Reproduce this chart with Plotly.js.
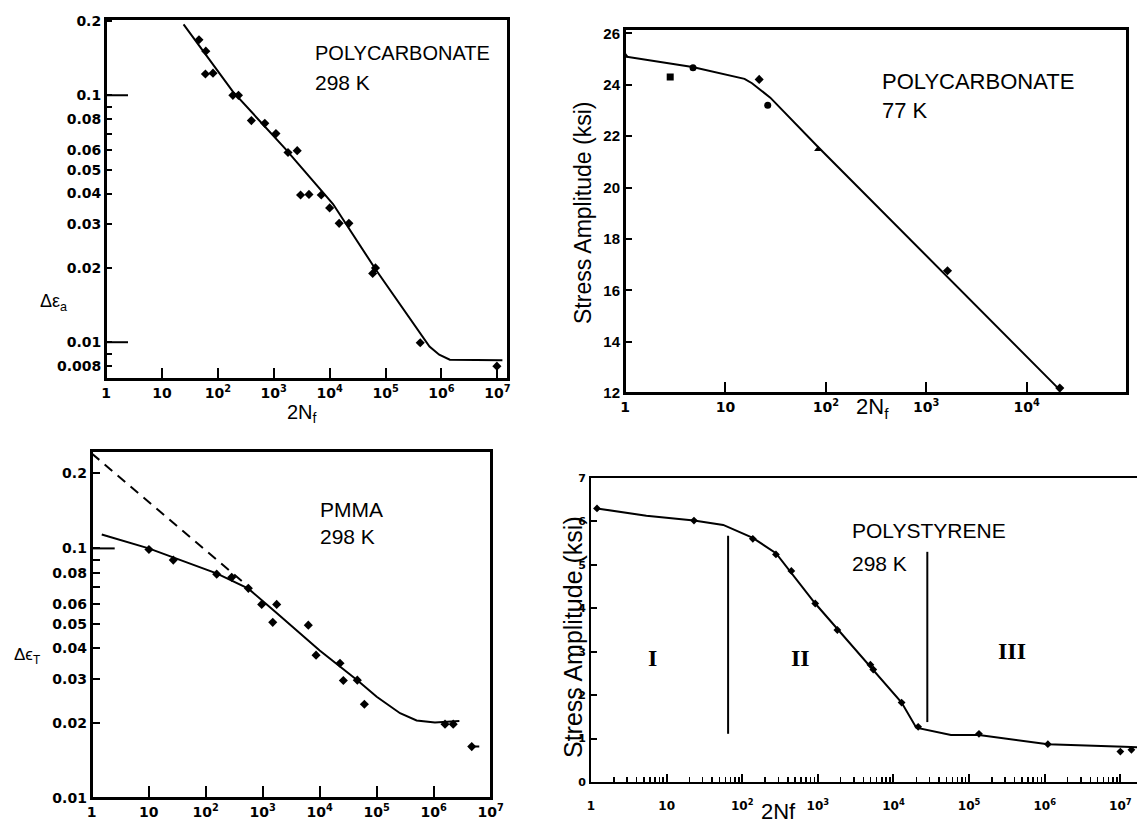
<!DOCTYPE html>
<html>
<head>
<meta charset="utf-8">
<script src="https://cdn.plot.ly/plotly-3.0.1.min.js"></script>
<style>
html,body{margin:0;padding:0;background:#fff;}
#wrap{position:relative;width:1137px;height:826px;}
#chart{width:1137px;height:826px;}
.frame{position:absolute;box-sizing:border-box;border:2px solid #000;pointer-events:none;z-index:10;}
</style>
</head>
<body>
<div id="wrap">
<div id="chart"></div>
<div class="frame" style="left:105px;top:18px;width:404px;height:362px;"></div>
<div class="frame" style="left:624px;top:28px;width:504px;height:366px;"></div>
<div class="frame" style="left:91px;top:450px;width:401px;height:349px;"></div>
</div>
<script>
// ---------- Panel 1: Polycarbonate 298 K (strain amplitude vs 2Nf) ----------
const pc298_N = [46, 61, 60, 82, 186, 234, 398, 692, 1096, 1800, 2630, 3020, 4270, 7080, 10000, 14800, 22100, 58900, 66100, 417000, 9800000];
const pc298_strain = [0.168, 0.151, 0.122, 0.123, 0.100, 0.100, 0.079, 0.077, 0.070, 0.0587, 0.0597, 0.0395, 0.0397, 0.0395, 0.035, 0.0303, 0.0303, 0.019, 0.020, 0.00995, 0.0080];
const pc298_fitN = [24.4, 186, 1585, 11500, 67600, 611000, 912000, 1410000, 12300000];
const pc298_fitS = [0.194, 0.1035, 0.061, 0.0363, 0.0196, 0.0096, 0.0089, 0.0085, 0.00845];
const pc298_yTicks = [0.2, 0.1, 0.09, 0.08, 0.07, 0.06, 0.05, 0.04, 0.03, 0.02, 0.01, 0.009, 0.008];
const pc298_yLabels = ["0.2", "0.1", "", "0.08", "", "0.06", "0.05", "0.04", "0.03", "0.02", "0.01", "", "0.008"];
const pc298_longTicks = [0.1, 0.01];

// ---------- Panel 2: Polycarbonate 77 K (stress amplitude vs 2Nf) ----------
const pc77_N = [1, 2.82, 4.76, 21.7, 26.4, 83.8, 1630, 21400];
const pc77_S = [25.14, 24.3, 24.66, 24.21, 23.2, 21.49, 16.76, 12.19];
const pc77_sym = ["triangle-up", "square", "circle", "diamond", "circle", "triangle-up", "diamond", "diamond"];
const pc77_fitN = [1, 4.7, 15.5, 18.4, 28, 83.8, 20100];
const pc77_fitS = [25.1, 24.69, 24.23, 24.06, 23.5, 21.58, 12.23];
const pc77_yTicks = [12, 14, 16, 18, 20, 22, 24, 26];

// ---------- Panel 3: PMMA 298 K ----------
const pmma_N = [10.1, 27, 156, 286, 560, 960, 1500, 1760, 6310, 8630, 22700, 26000, 45700, 60800, 1580000, 2200000, 4650000];
const pmma_S = [0.099, 0.0898, 0.0789, 0.0766, 0.0692, 0.0597, 0.0506, 0.0597, 0.0493, 0.0374, 0.0347, 0.0296, 0.0297, 0.0238, 0.0198, 0.0198, 0.0161];
const pmma_fitN = [1.5, 10, 155, 562, 1780, 10000, 45700, 100000, 257000, 501000, 1050000, 2820000];
const pmma_fitS = [0.1137, 0.1, 0.0795, 0.069, 0.055, 0.039, 0.0297, 0.0255, 0.0219, 0.0205, 0.0201, 0.0204];
const pmma_dashN = [1, 560];
const pmma_dashS = [0.240, 0.0703];
const pmma_tailN = [4650000, 6300000];
const pmma_tailS = [0.0161, 0.0161];
const pmma_yTicks = [0.2, 0.1, 0.09, 0.08, 0.07, 0.06, 0.05, 0.04, 0.03, 0.02, 0.01];
const pmma_yLabels = ["0.2", "0.1", "", "0.08", "", "0.06", "0.05", "0.04", "0.03", "0.02", "0.01"];
const pmma_longTicks = [0.1];

// ---------- Panel 4: Polystyrene 298 K ----------
const ps_N = [1.2, 23, 138, 279, 446, 923, 1810, 4950, 5400, 12800, 21200, 135000, 1100000, 10000000, 14000000];
const ps_S = [6.30, 6.02, 5.60, 5.24, 4.86, 4.11, 3.50, 2.70, 2.59, 1.83, 1.27, 1.11, 0.87, 0.70, 0.74];
const ps_fitN = [1.2, 5.4, 23, 56, 138, 279, 923, 4950, 12800, 20000, 57500, 135000, 1100000, 11200000, 16600000];
const ps_fitS = [6.30, 6.13, 6.02, 5.92, 5.62, 5.27, 4.11, 2.67, 1.83, 1.25, 1.08, 1.08, 0.87, 0.81, 0.80];
const ps_bound1N = [65, 65], ps_bound1S = [5.67, 1.11];
const ps_bound2N = [28000, 28000], ps_bound2S = [5.30, 1.38];
const ps_yTicks = [0, 1, 2, 3, 4, 5, 6, 7];

// shared x tick labels (cycles)
const decadeVals = [1, 10, 100, 1000, 10000, 100000, 1000000, 10000000];
const decadeText = ["1", "10", "10<sup>2</sup>", "10<sup>3</sup>", "10<sup>4</sup>", "10<sup>5</sup>", "10<sup>6</sup>", "10<sup>7</sup>"];
const decadeVals5 = [1, 10, 100, 1000, 10000, 100000];
const decadeText5 = ["1", "10", "10<sup>2</sup>", "10<sup>3</sup>", "10<sup>4</sup>", "10<sup>5</sup>"];

const W = 1137, H = 826;
const px = v => v / W;
const py = v => 1 - v / H;
const K = "#000000";
const tickFont = {family: "DejaVu Sans, Arial", size: 14, color: K, weight: "bold"};
const tickFontSm = {family: "DejaVu Sans, Arial", size: 12, color: K, weight: "bold"};
const lbl = {family: "Liberation Sans, Arial, sans-serif", color: K};

function mk(x, y, xa, ya, extra) {
  return Object.assign({x: x, y: y, xaxis: xa, yaxis: ya, type: "scatter", mode: "markers",
    marker: {color: K, size: 7, symbol: "diamond"}, hoverinfo: "skip", showlegend: false}, extra || {});
}
function ln(x, y, xa, ya, dash) {
  return {x: x, y: y, xaxis: xa, yaxis: ya, type: "scatter", mode: "lines",
    line: {color: K, width: 2, dash: dash || "solid"}, hoverinfo: "skip", showlegend: false};
}

const traces = [
  ln(pc298_fitN, pc298_fitS, "x", "y"),
  mk(pc298_N, pc298_strain, "x", "y"),
  ln(pc77_fitN, pc77_fitS, "x2", "y2"),
  mk(pc77_N, pc77_S, "x2", "y2", {marker: {color: K, size: 7, symbol: pc77_sym}}),
  ln(pmma_dashN, pmma_dashS, "x3", "y3", "10px,7px"),
  ln(pmma_fitN, pmma_fitS, "x3", "y3"),
  ln(pmma_tailN, pmma_tailS, "x3", "y3"),
  mk(pmma_N, pmma_S, "x3", "y3"),
  ln(ps_fitN, ps_fitS, "x4", "y4"),
  ln(ps_bound1N, ps_bound1S, "x4", "y4"),
  ln(ps_bound2N, ps_bound2S, "x4", "y4"),
  mk(ps_N, ps_S, "x4", "y4", {marker: {color: K, size: 6, symbol: "diamond"}})
];

function axisStyle(extra) {
  return Object.assign({showline: true, linecolor: K, linewidth: 2, mirror: true, showgrid: false,
    zeroline: false, tickcolor: K, tickwidth: 2}, extra);
}
// long inside tick marks at labelled decades (axis decoration)
function longTick(yref, v, leftPx, lenPx) {
  return {type: "line", xref: "paper", yref: yref, x0: px(leftPx), x1: px(leftPx + lenPx), y0: v, y1: v,
    line: {color: K, width: 2}, layer: "above"};
}

const layout = {
  width: W, height: H, margin: {l: 0, r: 0, t: 0, b: 0},
  paper_bgcolor: "white", plot_bgcolor: "rgba(0,0,0,0)", showlegend: false,
  xaxis: axisStyle({domain: [px(106), px(508)], anchor: "y", type: "log", range: [0, 7.19],
    tickmode: "array", tickvals: decadeVals, ticktext: decadeText, ticks: "inside", ticklen: 11,
    tickfont: tickFont}),
  yaxis: axisStyle({domain: [py(379), py(19.3)], anchor: "x", type: "log", range: [-2.149, -0.692],
    tickmode: "array", tickvals: pc298_yTicks, ticktext: pc298_yLabels, ticks: "inside", ticklen: 6,
    tickfont: tickFont}),
  xaxis2: axisStyle({domain: [px(625), px(1127)], anchor: "y2", type: "log", range: [0, 5],
    tickmode: "array", tickvals: decadeVals5, ticktext: decadeText5, ticks: "inside", ticklen: 11,
    tickfont: tickFont}),
  yaxis2: axisStyle({domain: [py(393), py(29.3)], anchor: "x2", range: [12, 26.16],
    tickmode: "array", tickvals: pc77_yTicks, ticks: "inside", ticklen: 7,
    tickfont: {family: "Liberation Sans, Arial", size: 15, color: K, weight: "bold"}}),
  xaxis3: axisStyle({domain: [px(91.7), px(490.7)], anchor: "y3", type: "log", range: [0, 7],
    tickmode: "array", tickvals: decadeVals, ticktext: decadeText, ticks: "inside", ticklen: 12,
    tickfont: tickFont}),
  yaxis3: axisStyle({domain: [py(798.3), py(450.7)], anchor: "x3", type: "log", range: [-2, -0.609],
    tickmode: "array", tickvals: pmma_yTicks, ticktext: pmma_yLabels, ticks: "inside", ticklen: 8,
    tickfont: tickFont}),
  xaxis4: {domain: [px(591), 1], anchor: "y4", type: "log", range: [0, 7.22],
    showline: true, linecolor: K, linewidth: 2, mirror: true, showgrid: false, zeroline: false,
    tickmode: "array", tickvals: decadeVals, ticktext: decadeText, ticks: "inside", ticklen: 8,
    tickcolor: K, tickwidth: 2, tickfont: tickFontSm, ticklabelstandoff: 12,
    minor: {ticks: "inside", ticklen: 5, dtick: "D1", tickcolor: K, tickwidth: 1.5, showgrid: false}},
  yaxis4: {domain: [py(782), py(478)], anchor: "x4", range: [0, 7],
    showline: true, linecolor: K, linewidth: 2, mirror: false, showgrid: false, zeroline: false,
    tickmode: "array", tickvals: ps_yTicks, ticks: "inside", ticklen: 6, tickcolor: K, tickwidth: 2,
    tickfont: {family: "DejaVu Sans, Arial", size: 11, color: K, weight: "bold"}, ticklabelstandoff: 1},

  shapes: [
    longTick("y", pc298_longTicks[0], 106, 22),
    longTick("y", pc298_longTicks[1], 106, 22),
    longTick("y3", pmma_longTicks[0], 91.7, 23)
  ],

  annotations: [
    // panel 1
    {text: "POLYCARBONATE", x: px(312.7), y: py(52.7), xref: "paper", yref: "paper", xanchor: "left", yanchor: "middle", showarrow: false, font: Object.assign({size: 20}, lbl)},
    {text: "298 K", x: px(312.7), y: py(82.5), xref: "paper", yref: "paper", xanchor: "left", yanchor: "middle", showarrow: false, font: Object.assign({size: 21}, lbl)},
    {text: "2N<sub>f</sub>", x: px(302), y: py(413), xref: "paper", yref: "paper", xanchor: "center", yanchor: "middle", showarrow: false, font: Object.assign({size: 20}, lbl)},
    {text: "Δε<sub>a</sub>", x: px(53), y: py(302), xref: "paper", yref: "paper", xanchor: "center", yanchor: "middle", showarrow: false, font: Object.assign({size: 18}, lbl)},
    // panel 2
    {text: "POLYCARBONATE", x: px(880), y: py(81), xref: "paper", yref: "paper", xanchor: "left", yanchor: "middle", showarrow: false, font: Object.assign({size: 22}, lbl)},
    {text: "77 K", x: px(880), y: py(110), xref: "paper", yref: "paper", xanchor: "left", yanchor: "middle", showarrow: false, font: Object.assign({size: 22}, lbl)},
    {text: "Stress Amplitude (ksi)", x: px(583), y: py(213), xref: "paper", yref: "paper", xanchor: "center", yanchor: "middle", textangle: -90, showarrow: false, font: Object.assign({size: 23}, lbl)},
    {text: "2N<sub>f</sub>", x: px(873), y: py(408), xref: "paper", yref: "paper", xanchor: "center", yanchor: "middle", showarrow: false, font: Object.assign({size: 22}, lbl)},
    // panel 3
    {text: "PMMA", x: px(318), y: py(509.5), xref: "paper", yref: "paper", xanchor: "left", yanchor: "middle", showarrow: false, font: Object.assign({size: 21}, lbl)},
    {text: "298 K", x: px(318), y: py(536.7), xref: "paper", yref: "paper", xanchor: "left", yanchor: "middle", showarrow: false, font: Object.assign({size: 21}, lbl)},
    {text: "Δϵ<sub>T</sub>", x: px(27), y: py(656), xref: "paper", yref: "paper", xanchor: "center", yanchor: "middle", showarrow: false, font: Object.assign({size: 17}, lbl)},
    // panel 4
    {text: "POLYSTYRENE", x: px(850), y: py(530), xref: "paper", yref: "paper", xanchor: "left", yanchor: "middle", showarrow: false, font: Object.assign({size: 21}, lbl)},
    {text: "298 K", x: px(850), y: py(563), xref: "paper", yref: "paper", xanchor: "left", yanchor: "middle", showarrow: false, font: Object.assign({size: 21}, lbl)},
    {text: "Stress Amplitude (ksi)", x: px(573), y: py(637), xref: "paper", yref: "paper", xanchor: "center", yanchor: "middle", textangle: -90, showarrow: false, font: Object.assign({size: 25}, lbl)},
    {text: "2Nf", x: px(778), y: py(811), xref: "paper", yref: "paper", xanchor: "center", yanchor: "middle", showarrow: false, font: Object.assign({size: 22}, lbl)},
    {text: "I", x: 0.817, y: 2.86, xref: "x4", yref: "y4", showarrow: false, font: {family: "Liberation Serif, serif", size: 24, color: K, weight: "bold"}},
    {text: "II", x: 2.771, y: 2.86, xref: "x4", yref: "y4", showarrow: false, font: {family: "Liberation Serif, serif", size: 24, color: K, weight: "bold"}},
    {text: "III", x: 5.566, y: 3.01, xref: "x4", yref: "y4", showarrow: false, font: {family: "Liberation Serif, serif", size: 24, color: K, weight: "bold"}}
  ]
};

Plotly.newPlot("chart", traces, layout, {staticPlot: true, displayModeBar: false});
</script>
</body>
</html>
